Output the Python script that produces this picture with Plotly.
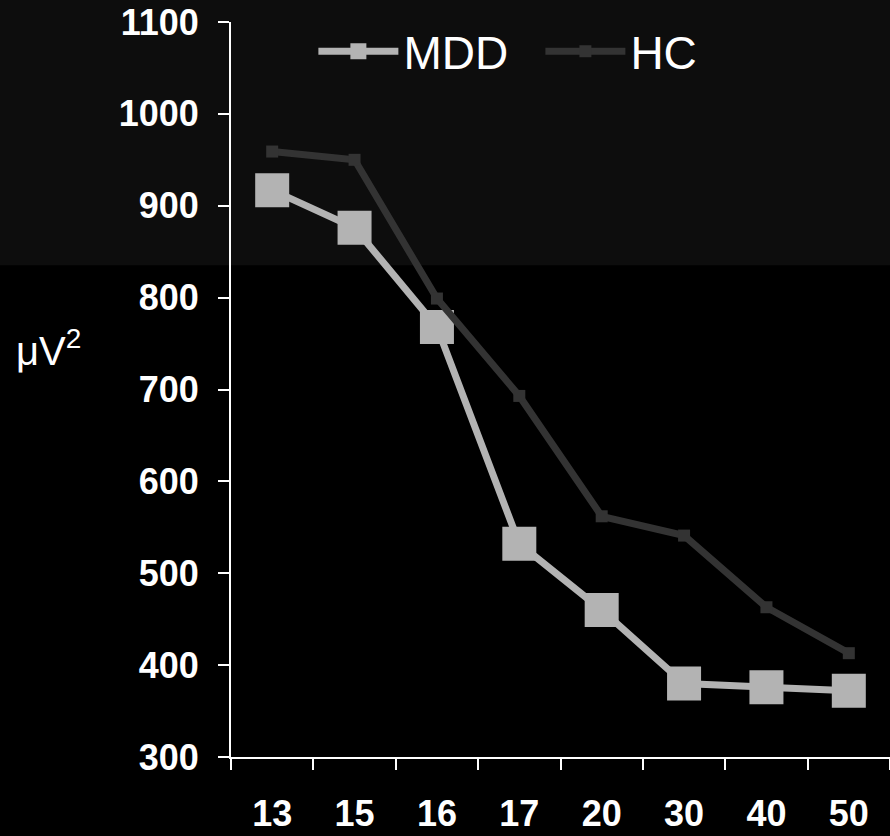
import plotly.graph_objects as go

categories = ["13", "15", "16", "17", "20", "30", "40", "50"]
mdd_values = [917, 876, 768, 532, 460, 380, 376, 372]
hc_values = [959, 950, 799, 693, 562, 541, 463, 413]
y_ticks = [300, 400, 500, 600, 700, 800, 900, 1000, 1100]

fig = go.Figure()
fig.add_trace(go.Scatter(
    x=categories, y=mdd_values, name="MDD", mode="lines+markers",
    line=dict(color="#b3b3b3", width=7),
    marker=dict(symbol="square", size=34, color="#b3b3b3"),
))
fig.add_trace(go.Scatter(
    x=categories, y=hc_values, name="HC", mode="lines+markers",
    line=dict(color="#333333", width=7),
    marker=dict(symbol="square", size=12, color="#333333"),
))

# dark grey band at the top of the page
fig.add_shape(type="rect", xref="paper", yref="paper",
              x0=-0.4, x1=1.05, y0=0.669, y1=1.1,
              fillcolor="#0d0d0d", line=dict(width=0), layer="below")

fig.add_annotation(text="μV<sup>2</sup>", xref="paper", yref="paper",
                   x=-0.33, y=0.556, xanchor="left", showarrow=False,
                   font=dict(family="Liberation Sans", size=40, color="white"))

fig.update_layout(
    width=890, height=836,
    margin=dict(l=231, r=0, t=22, b=79),
    paper_bgcolor="#000000", plot_bgcolor="rgba(0,0,0,0)",
    showlegend=True,
    legend=dict(orientation="h", x=0.125, y=0.96, yanchor="middle", xanchor="left",
                bgcolor="rgba(0,0,0,0)",
                font=dict(family="Liberation Sans", size=46, color="white"),
                itemwidth=80, entrywidth=132, entrywidthmode="pixels"),
    xaxis=dict(type="category", range=[-0.5, 7.5], showgrid=False,
               showline=True, linecolor="white", linewidth=2,
               ticks="outside", ticklen=11, tickcolor="white", tickwidth=2,
               tickson="boundaries", ticklabelstandoff=24,
               tickfont=dict(family="Liberation Sans", size=36, color="white", weight="bold"),
               zeroline=False),
    yaxis=dict(range=[300, 1100], tickvals=y_ticks, showgrid=False,
               showline=True, linecolor="white", linewidth=2,
               ticks="outside", ticklen=11, tickcolor="white", tickwidth=2,
               ticklabelstandoff=12,
               tickfont=dict(family="Liberation Sans", size=36, color="white", weight="bold"),
               zeroline=False),
)

fig.write_html("out.html", config={"displayModeBar": False},
               post_script="document.body.style.margin='0';document.body.style.background='#000';document.body.style.overflow='hidden';")
